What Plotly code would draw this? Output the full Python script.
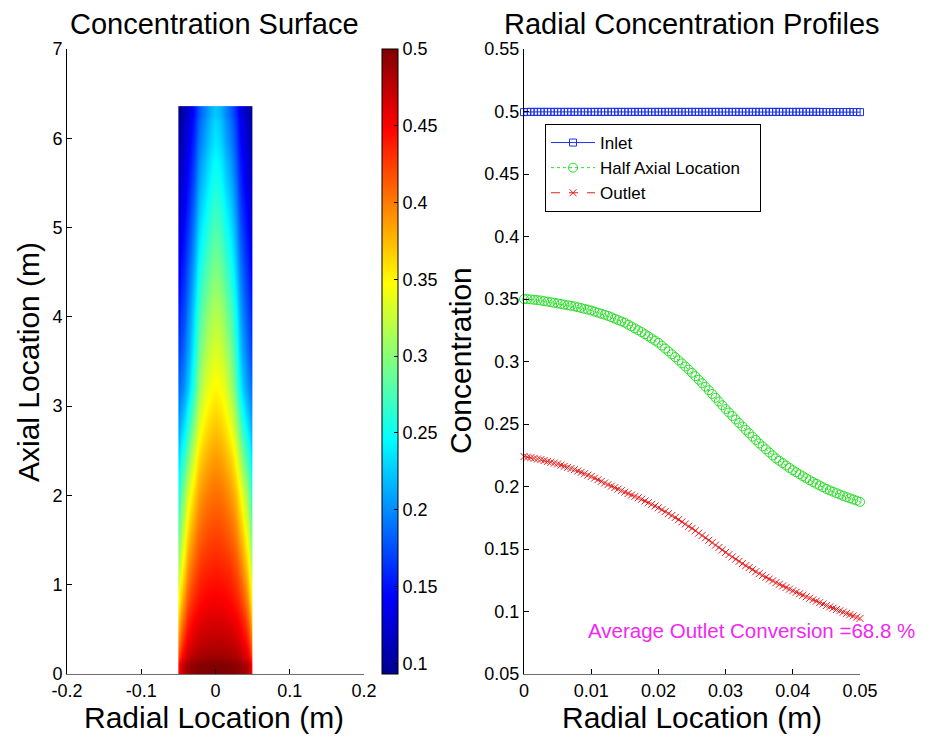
import numpy as np
import plotly.graph_objects as go

# ---------------- data: radial profiles (right panel) ----------------
radial = list(np.round(np.linspace(0.0, 0.05, 101), 4))

inlet = [0.4995, 0.4997, 0.4997, 0.4997, 0.4997, 0.4997, 0.4997, 0.4997, 0.4997, 0.4997,
         0.4997, 0.4997, 0.4997, 0.4997, 0.4997, 0.4997, 0.4997, 0.4997, 0.4997, 0.4997,
         0.4997, 0.4997, 0.4997, 0.4997, 0.4997, 0.4997, 0.4997, 0.4997, 0.4997, 0.4997,
         0.4997, 0.4997, 0.4997, 0.4997, 0.4997, 0.4997, 0.4997, 0.4997, 0.4997, 0.4997,
         0.4997, 0.4997, 0.4997, 0.4997, 0.4997, 0.4997, 0.4997, 0.4997, 0.4997, 0.4997,
         0.4997, 0.4997, 0.4997, 0.4997, 0.4997, 0.4997, 0.4997, 0.4997, 0.4997, 0.4997,
         0.4997, 0.4997, 0.4997, 0.4997, 0.4997, 0.4997, 0.4997, 0.4997, 0.4997, 0.4997,
         0.4997, 0.4997, 0.4997, 0.4997, 0.4997, 0.4997, 0.4997, 0.4997, 0.4997, 0.4997,
         0.4997, 0.4997, 0.4997, 0.4997, 0.4997, 0.4997, 0.4997, 0.4997, 0.4997, 0.4996,
         0.4996, 0.4996, 0.4996, 0.4996, 0.4996, 0.4996, 0.4996, 0.4996, 0.4996, 0.4996,
         0.4995]

half_axial = [0.3500, 0.3499, 0.3497, 0.3494, 0.3491,
              0.3488, 0.3483, 0.3479, 0.3474, 0.3470,
              0.3465, 0.3460, 0.3455, 0.3450, 0.3446,
              0.3441, 0.3434, 0.3428, 0.3421, 0.3415,
              0.3408, 0.3399, 0.3391, 0.3382, 0.3374,
              0.3365, 0.3354, 0.3343, 0.3332, 0.3321,
              0.3310, 0.3295, 0.3280, 0.3265, 0.3250,
              0.3235, 0.3218, 0.3201, 0.3184, 0.3167,
              0.3150, 0.3127, 0.3104, 0.3081, 0.3058,
              0.3035, 0.3010, 0.2985, 0.2960, 0.2935,
              0.2910, 0.2882, 0.2854, 0.2826, 0.2798,
              0.2770, 0.2740, 0.2710, 0.2680, 0.2650,
              0.2620, 0.2592, 0.2564, 0.2536, 0.2508,
              0.2480, 0.2453, 0.2426, 0.2399, 0.2372,
              0.2345, 0.2321, 0.2297, 0.2273, 0.2249,
              0.2225, 0.2206, 0.2187, 0.2168, 0.2149,
              0.2130, 0.2114, 0.2098, 0.2082, 0.2066,
              0.2050, 0.2036, 0.2022, 0.2008, 0.1994,
              0.1980, 0.1969, 0.1958, 0.1947, 0.1936,
              0.1925, 0.1915, 0.1906, 0.1896, 0.1887,
              0.1877]

outlet = [0.2240, 0.2235, 0.2230, 0.2225, 0.2220,
          0.2215, 0.2208, 0.2201, 0.2194, 0.2187,
          0.2180, 0.2171, 0.2162, 0.2153, 0.2144,
          0.2135, 0.2124, 0.2113, 0.2102, 0.2091,
          0.2080, 0.2067, 0.2054, 0.2041, 0.2028,
          0.2015, 0.2003, 0.1991, 0.1979, 0.1967,
          0.1955, 0.1944, 0.1932, 0.1921, 0.1910,
          0.1898, 0.1884, 0.1871, 0.1857, 0.1844,
          0.1830, 0.1814, 0.1799, 0.1783, 0.1768,
          0.1752, 0.1735, 0.1717, 0.1700, 0.1682,
          0.1665, 0.1646, 0.1627, 0.1608, 0.1589,
          0.1570, 0.1551, 0.1531, 0.1512, 0.1492,
          0.1473, 0.1455, 0.1437, 0.1419, 0.1401,
          0.1383, 0.1367, 0.1351, 0.1335, 0.1319,
          0.1303, 0.1289, 0.1274, 0.1260, 0.1245,
          0.1231, 0.1218, 0.1205, 0.1192, 0.1179,
          0.1166, 0.1154, 0.1142, 0.1130, 0.1118,
          0.1106, 0.1094, 0.1083, 0.1071, 0.1060,
          0.1048, 0.1037, 0.1027, 0.1016, 0.1006,
          0.0995, 0.0985, 0.0975, 0.0965, 0.0955,
          0.0945]

series_names = ["Inlet", "Half Axial Location", "Outlet"]

# ---------------- data: concentration surface (left panel) ----------------
surf_r = [0.0, 0.005, 0.01, 0.015, 0.02, 0.025, 0.03, 0.035, 0.04, 0.045, 0.05]
surf_z = [0.0, 0.4, 0.8, 1.2, 1.6, 2.0, 2.4, 2.8, 3.18, 3.6, 4.0, 4.5, 5.0, 5.5, 6.0, 6.36]
surf_c = [
    [0.500, 0.500, 0.500, 0.499, 0.498, 0.497, 0.494, 0.490, 0.484, 0.473, 0.450],
    [0.474, 0.474, 0.473, 0.472, 0.470, 0.467, 0.462, 0.455, 0.443, 0.423, 0.395],
    [0.453, 0.453, 0.452, 0.450, 0.447, 0.442, 0.435, 0.424, 0.407, 0.382, 0.352],
    [0.437, 0.436, 0.435, 0.432, 0.428, 0.421, 0.411, 0.397, 0.376, 0.349, 0.318],
    [0.421, 0.420, 0.418, 0.414, 0.408, 0.399, 0.387, 0.370, 0.347, 0.319, 0.288],
    [0.405, 0.404, 0.401, 0.396, 0.389, 0.378, 0.362, 0.343, 0.319, 0.292, 0.262],
    [0.388, 0.386, 0.382, 0.376, 0.367, 0.353, 0.331, 0.306, 0.281, 0.259, 0.236],
    [0.369, 0.366, 0.361, 0.353, 0.341, 0.322, 0.296, 0.269, 0.245, 0.226, 0.210],
    [0.350, 0.3465, 0.3408, 0.331, 0.315, 0.291, 0.262, 0.2345, 0.213, 0.198, 0.1877],
    [0.335, 0.330, 0.323, 0.312, 0.296, 0.273, 0.244, 0.217, 0.197, 0.182, 0.170],
    [0.319, 0.314, 0.305, 0.294, 0.279, 0.257, 0.230, 0.204, 0.184, 0.169, 0.157],
    [0.298, 0.293, 0.283, 0.272, 0.258, 0.237, 0.211, 0.188, 0.170, 0.155, 0.143],
    [0.277, 0.271, 0.262, 0.249, 0.236, 0.217, 0.192, 0.171, 0.155, 0.141, 0.129],
    [0.256, 0.250, 0.240, 0.227, 0.215, 0.197, 0.174, 0.155, 0.140, 0.127, 0.116],
    [0.237, 0.231, 0.221, 0.208, 0.196, 0.180, 0.158, 0.141, 0.127, 0.115, 0.104],
    [0.224, 0.218, 0.208, 0.1955, 0.183, 0.1665, 0.1473, 0.1303, 0.1166, 0.1048, 0.0945],
]

left_xticks = [-0.2, -0.1, 0, 0.1, 0.2]
left_xlabels = ["-0.2", "-0.1", "0", "0.1", "0.2"]
left_yticks = [0, 1, 2, 3, 4, 5, 6, 7]
cbar_ticks = [0.1, 0.15, 0.2, 0.25, 0.3, 0.35, 0.4, 0.45, 0.5]
cbar_labels = ["0.1", "0.15", "0.2", "0.25", "0.3", "0.35", "0.4", "0.45", "0.5"]
right_xticks = [0, 0.01, 0.02, 0.03, 0.04, 0.05]
right_xlabels = ["0", "0.01", "0.02", "0.03", "0.04", "0.05"]
right_yticks = [0.05, 0.1, 0.15, 0.2, 0.25, 0.3, 0.35, 0.4, 0.45, 0.5, 0.55]
right_ylabels = ["0.05", "0.1", "0.15", "0.2", "0.25", "0.3", "0.35", "0.4", "0.45", "0.5", "0.55"]

# ---------------- build surface grid (mirror about axis) ----------------
x_centers = [-r for r in reversed(surf_r)] + surf_r[1:]
z_full = [list(reversed(row)) + row[1:] for row in surf_c]
x_edges = [x_centers[0]] + [(a + b) / 2 for a, b in zip(x_centers[:-1], x_centers[1:])] + [x_centers[-1]]
y_edges = [surf_z[0]] + [(a + b) / 2 for a, b in zip(surf_z[:-1], surf_z[1:])] + [surf_z[-1]]

# page body has an 8px margin: figure is 922x730 placed at (8, 8)
OFF = 8
W, H = 930 - OFF, 738 - OFF
def px(x):
    return (x - OFF) / W
def py(y):
    return (H - (y - OFF)) / H

FONT = "Liberation Sans, Arial, Helvetica, sans-serif"
PAD = "\u00a0" * 3  # widen legend box slightly

jet = [[0.0, "rgb(0,0,143)"], [0.125, "rgb(0,0,255)"], [0.375, "rgb(0,255,255)"],
       [0.625, "rgb(255,255,0)"], [0.875, "rgb(255,0,0)"], [1.0, "rgb(128,0,0)"]]

fig = go.Figure()

fig.add_trace(go.Heatmap(
    x=x_edges, y=y_edges, z=z_full, zsmooth="best",
    colorscale=jet, zmin=0.093, zmax=0.5, xaxis="x", yaxis="y",
    showscale=True, hoverinfo="skip",
    colorbar=dict(
        x=px(382), xanchor="left", xpad=0, thickness=16,
        y=py(674), yanchor="bottom", len=625 / H, lenmode="fraction", ypad=0,
        outlinecolor="black", outlinewidth=1,
        tickvals=cbar_ticks, ticktext=cbar_labels, ticks="inside", ticklen=4,
        tickcolor="black", tickfont=dict(family=FONT, size=18, color="black"),
    ),
))

fig.add_trace(go.Scatter(
    x=radial, y=inlet, name=series_names[0], mode="lines+markers", xaxis="x2", yaxis="y2",
    line=dict(color="rgb(30,50,230)", width=1),
    marker=dict(symbol="square-open", size=7, color="rgb(30,50,230)", line=dict(width=1)),
    cliponaxis=False,
))
fig.add_trace(go.Scatter(
    x=radial, y=half_axial, name=series_names[1] + PAD, mode="lines+markers", xaxis="x2", yaxis="y2",
    line=dict(color="rgb(40,220,40)", width=1, dash="dot"),
    marker=dict(symbol="circle-open", size=9, color="rgb(40,220,40)", line=dict(width=1)),
    cliponaxis=False,
))
fig.add_trace(go.Scatter(
    x=radial, y=outlet, name=series_names[2], mode="lines+markers", xaxis="x2", yaxis="y2",
    line=dict(color="rgb(230,30,30)", width=1, dash="dash"),
    marker=dict(symbol="x-thin-open", size=7, color="rgb(230,30,30)", line=dict(width=1, color="rgb(230,30,30)")),
    cliponaxis=False,
))

axis_common = dict(showgrid=False, zeroline=False, showline=True, ticks="inside", ticklen=5,
                   tickcolor="black", tickfont=dict(family=FONT, size=18, color="black"),
                   mirror=False, automargin=False, layer="above traces")

fig.update_layout(
    template="none",
    width=W, height=H, margin=dict(l=0, r=0, t=0, b=0, autoexpand=False),
    paper_bgcolor="white", plot_bgcolor="white",
    font=dict(family=FONT, color="black"),
    xaxis=dict(domain=[px(67), px(364)], range=[-0.2, 0.2], anchor="y",
               tickvals=left_xticks, ticktext=left_xlabels, linecolor="rgb(110,110,110)", **axis_common),
    yaxis=dict(domain=[py(674), py(49)], range=[0, 7], anchor="x",
               tickvals=left_yticks, linecolor="black", **axis_common),
    xaxis2=dict(domain=[px(524), px(860)], range=[0, 0.05], anchor="y2",
                tickvals=right_xticks, ticktext=right_xlabels, linecolor="rgb(110,110,110)", **axis_common),
    yaxis2=dict(domain=[py(674), py(49)], range=[0.05, 0.55], anchor="x2",
                tickvals=right_yticks, ticktext=right_ylabels, linecolor="black", **axis_common),
    legend=dict(x=px(545), y=py(124), xanchor="left", yanchor="top",
                bgcolor="white", bordercolor="black", borderwidth=1, itemwidth=44,
                font=dict(family=FONT, size=17, color="black"), tracegroupgap=0),
    showlegend=True,
)

ann = [
    dict(text="Concentration Surface", x=px(214), y=py(24), size=29),
    dict(text="Radial Concentration Profiles", x=px(692), y=py(24), size=29),
    dict(text="Radial Location (m)", x=px(214), y=py(717), size=30),
    dict(text="Radial Location (m)", x=px(692), y=py(717), size=30),
    dict(text="Axial Location (m)", x=px(28), y=py(362), size=30, angle=-90),
    dict(text="Concentration", x=px(461), y=py(361), size=30, angle=-90),
]
for a in ann:
    fig.add_annotation(text=a["text"], x=a["x"], y=a["y"], xref="paper", yref="paper",
                       xanchor="center", yanchor="middle", showarrow=False,
                       textangle=a.get("angle", 0),
                       font=dict(family=FONT, size=a["size"], color="black"))

fig.add_annotation(text="Average Outlet Conversion =68.8 %", x=0.0092, y=0.0851,
                   xref="x2", yref="y2", xanchor="left", yanchor="middle", showarrow=False,
                   font=dict(family=FONT, size=20.5, color="rgb(240,40,240)"))

fig.write_html("out.html")
